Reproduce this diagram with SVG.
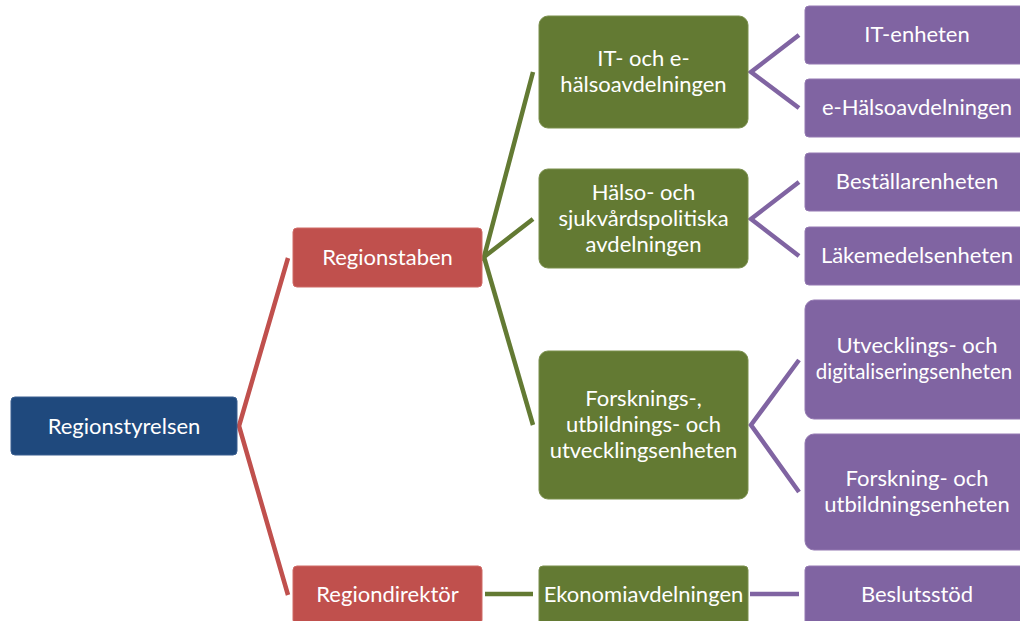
<svg xmlns="http://www.w3.org/2000/svg" width="1020" height="621" viewBox="0 0 1020 621">
<style>
.box{stroke-width:1}
.blue{fill:#1F497D;stroke:#3a5f90}
.red{fill:#C0504D;stroke:#cf6a67}
.green{fill:#637A33;stroke:#7a8f4d}
.purple{fill:#8064A2;stroke:#9479b2}
text{font-family:Lato,"Liberation Sans",sans-serif;font-size:22px;fill:#ffffff;text-anchor:middle}
.cr{stroke:#C0504D;stroke-width:4.5;fill:none}
.cg{stroke:#637A33;stroke-width:4.5;fill:none}
.cp{stroke:#8064A2;stroke-width:4.5;fill:none}
</style>
<rect width="1020" height="621" fill="#ffffff"/>
<g id="connectors">
<path class="cr" d="M288,258 L239,426 L288,595"/>
<path class="cg" d="M533,72 L484,257 L533,219"/>
<path class="cg" d="M484,257 L533,425"/>
<path class="cg" d="M485,594 L533,594"/>
<path class="cp" d="M799,35 L751,72 L799,108"/>
<path class="cp" d="M799,182 L751,219 L799,256"/>
<path class="cp" d="M799,360 L751,425 L799,492"/>
<path class="cp" d="M750,594 L799,594"/>
</g>
<g id="n-regionstyrelsen"><rect class="box blue" x="11" y="397" width="226" height="58" rx="4"/><text x="124" y="434">Regionstyrelsen</text></g>
<g id="n-regionstaben"><rect class="box red" x="293" y="228" width="189" height="59" rx="4"/><text x="387.5" y="265">Regionstaben</text></g>
<g id="n-regiondirektor"><rect class="box red" x="293" y="566" width="189" height="58" rx="4"/><text x="387.5" y="602">Regiondirektör</text></g>
<g id="n-it-ehalsa"><rect class="box green" x="539" y="16" width="209" height="112" rx="9"/><text x="643.5" y="66">IT- och e-</text><text x="643.5" y="92">hälsoavdelningen</text></g>
<g id="n-halso-sjukvard"><rect class="box green" x="539" y="169" width="209" height="99" rx="9"/><text x="643.5" y="200">Hälso- och</text><text x="643.5" y="226">sjukvårdspolitiska</text><text x="643.5" y="252">avdelningen</text></g>
<g id="n-forsknings"><rect class="box green" x="539" y="351" width="209" height="148" rx="9"/><text x="643.5" y="406">Forsknings-,</text><text x="643.5" y="432">utbildnings- och</text><text x="643.5" y="458">utvecklingsenheten</text></g>
<g id="n-ekonomi"><rect class="box green" x="539" y="566" width="209" height="60" rx="4"/><text x="643.5" y="602">Ekonomiavdelningen</text></g>
<g id="n-it-enheten"><rect class="box purple" x="805" y="6" width="226" height="58" rx="4"/><text x="917" y="42">IT-enheten</text></g>
<g id="n-ehalso"><rect class="box purple" x="805" y="79" width="226" height="58" rx="4"/><text x="917" y="115">e-Hälsoavdelningen</text></g>
<g id="n-bestallar"><rect class="box purple" x="805" y="153" width="226" height="58" rx="4"/><text x="917" y="189">Beställarenheten</text></g>
<g id="n-lakemedel"><rect class="box purple" x="805" y="227" width="226" height="58" rx="4"/><text x="917" y="263">Läkemedelsenheten</text></g>
<g id="n-utvecklings"><rect class="box purple" x="805" y="300" width="226" height="119" rx="9"/><text x="917" y="353">Utvecklings- och</text><text x="914" y="379" style="font-size:20.5px">digitaliseringsenheten</text></g>
<g id="n-forskning"><rect class="box purple" x="805" y="434" width="226" height="116" rx="9"/><text x="917" y="486">Forskning- och</text><text x="917" y="512">utbildningsenheten</text></g>
<g id="n-beslutsstod"><rect class="box purple" x="805" y="566" width="226" height="60" rx="4"/><text x="917" y="602">Beslutsstöd</text></g>
</svg>
